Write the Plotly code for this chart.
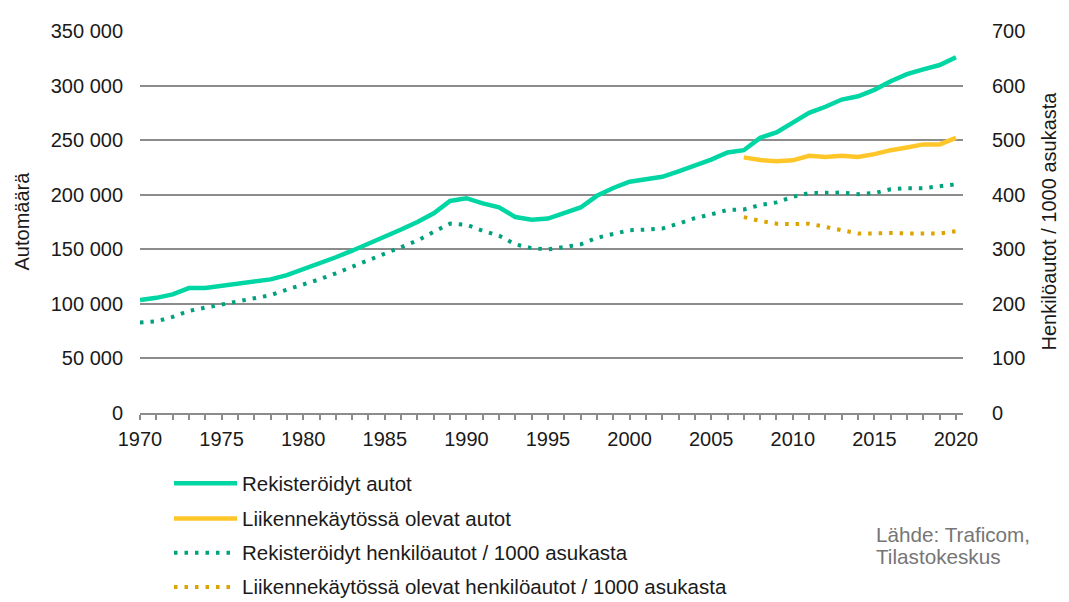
import plotly.graph_objects as go

# ---------------- data ----------------
years = list(range(1970, 2021))
registered_cars = [
    103500, 105500, 108700, 114500, 114500, 116400, 118200, 120300, 122400, 126300,
    131600, 136700, 142700, 148700, 154900, 161500, 168100, 175000, 183000, 194300,
    196800, 192000, 188400, 179500, 177100, 178200, 183400, 188300, 199000, 206200,
    211900, 214300, 216400, 221400, 226800, 232100, 238700, 240800, 252100, 257100,
    266100, 275000, 280600, 287200, 290200, 296100, 303900, 310400, 314900, 318800,
    326000,
]
registered_per_1000 = [
    166, 168, 176, 187, 193, 199, 205, 211, 216, 226,
    235, 245, 256, 268, 280, 292, 305, 316, 332, 347,
    345, 334, 325, 309, 302, 300, 304, 309, 321, 328,
    335, 336, 338, 347, 357, 364, 372, 373, 381, 386,
    396, 403, 404, 404, 401, 403, 410, 412, 412, 415,
    419,
]
traffic_years = list(range(2007, 2021))
traffic_cars = [234200, 231800, 230700, 231500, 235700, 234500, 235700, 234500,
                237200, 240800, 243200, 246100, 246100, 252100]
traffic_per_1000 = [359, 352, 347, 346, 347, 341, 334, 329, 329, 330, 329, 329, 329, 333]

series_names = [
    "Rekisteröidyt autot",
    "Liikennekäytössä olevat autot",
    "Rekisteröidyt henkilöautot / 1000 asukasta",
    "Liikennekäytössä olevat henkilöautot / 1000 asukasta",
]
left_tick_vals = [0, 50000, 100000, 150000, 200000, 250000, 300000, 350000]
left_tick_text = ["0", "50 000", "100 000", "150 000", "200 000", "250 000", "300 000", "350 000"]
right_tick_vals = [0, 100, 200, 300, 400, 500, 600, 700]
x_tick_vals = [1970, 1975, 1980, 1985, 1990, 1995, 2000, 2005, 2010, 2015, 2020]
left_title = "Automäärä"
right_title = "Henkilöautot / 1000 asukasta"
source_lines = ["Lähde: Traficom,", "Tilastokeskus"]

# ---------------- styles ----------------
OFF = 8  # page body margin
W, H = 1069 - OFF, 602 - OFF
ML = 140 - OFF
MT = 22 - OFF
MR = W - (963 - OFF)
MB = H - (413 - OFF)
PW, PH = W - ML - MR, H - MT - MB
FONT = "Liberation Sans, Arial, sans-serif"
TXT = "#1a1a1a"
GREEN = "#00D6A3"
YELLOW = "#FFC629"
GREEN_DOT = "#00A27D"
YELLOW_DOT = "#DBA400"
GRID = "#8C8C8C"
DOT_DASH = "3.5px,7px"

def px_x(p):  # reference page pixel -> paper
    return (p - OFF - ML) / PW

def px_y(p):
    return (H - MB - (p - OFF)) / PH

colors = [GREEN, YELLOW, GREEN_DOT, YELLOW_DOT]
dashes = ["solid", "solid", DOT_DASH, DOT_DASH]
widths = [4.5, 4.5, 4, 4]

fig = go.Figure()
fig.add_trace(go.Scatter(x=years, y=registered_cars, mode="lines", name=series_names[0],
                         line=dict(color=colors[0], width=widths[0]), showlegend=False))
fig.add_trace(go.Scatter(x=traffic_years, y=traffic_cars, mode="lines", name=series_names[1],
                         line=dict(color=colors[1], width=widths[1]), showlegend=False))
fig.add_trace(go.Scatter(x=years, y=registered_per_1000, mode="lines", name=series_names[2],
                         yaxis="y2", line=dict(color=colors[2], width=widths[2], dash=dashes[2]),
                         showlegend=False))
fig.add_trace(go.Scatter(x=traffic_years, y=traffic_per_1000, mode="lines", name=series_names[3],
                         yaxis="y2", line=dict(color=colors[3], width=widths[3], dash=dashes[3]),
                         showlegend=False))

# custom legend (line samples + labels)
shapes = []
annotations = []
leg_y = [485, 521, 556, 591]
for name, c, d, w, ly in zip(series_names, colors, dashes, widths, leg_y):
    shapes.append(dict(type="line", xref="paper", yref="paper",
                       x0=px_x(174), x1=px_x(237), y0=px_y(ly), y1=px_y(ly),
                       line=dict(color=c, width=w, dash=d)))
    annotations.append(dict(text=name, xref="paper", yref="paper", x=px_x(240), y=px_y(ly),
                            xanchor="left", yanchor="middle", showarrow=False,
                            font=dict(family=FONT, size=20.5, color=TXT)))

# axis titles
annotations.append(dict(text=left_title, xref="paper", yref="paper", x=px_x(22), y=px_y(217),
                        textangle=-90, xanchor="center", yanchor="middle", showarrow=False,
                        font=dict(family=FONT, size=20, color=TXT)))
annotations.append(dict(text=right_title, xref="paper", yref="paper", x=px_x(1049), y=px_y(217),
                        textangle=-90, xanchor="center", yanchor="middle", showarrow=False,
                        font=dict(family=FONT, size=20, color=TXT)))
# source
for i, s in enumerate(source_lines):
    annotations.append(dict(text=s, xref="paper", yref="paper", x=px_x(874), y=px_y(537 + 23 * i),
                            xanchor="left", yanchor="middle", showarrow=False,
                            font=dict(family=FONT, size=20.7, color="#767676")))

fig.update_layout(
    width=W, height=H,
    margin=dict(l=ML, r=MR, t=MT, b=MB, pad=0),
    paper_bgcolor="white", plot_bgcolor="white",
    font=dict(family=FONT, size=20, color=TXT),
    shapes=shapes, annotations=annotations,
    xaxis=dict(range=[1970, 2020.43], tickvals=x_tick_vals, ticks="outside", ticklen=5,
               tickcolor=GRID, tickwidth=1.5, showline=True, linecolor=GRID, linewidth=1.5,
               showgrid=False, zeroline=False, ticklabelstandoff=2,
               minor=dict(dtick=1, tick0=1970, ticks="outside", ticklen=5, tickcolor=GRID,
                          tickwidth=1.5, showgrid=False),
               tickfont=dict(family=FONT, size=20, color=TXT)),
    yaxis=dict(range=[0, 350000], tickvals=left_tick_vals, ticktext=left_tick_text,
               showgrid=True, gridcolor=GRID, gridwidth=1.5, zeroline=False, showline=False,
               ticks="", ticklabelstandoff=16,
               tickfont=dict(family=FONT, size=20, color=TXT)),
    yaxis2=dict(range=[0, 700], tickvals=right_tick_vals, overlaying="y", side="right",
                showgrid=False, zeroline=False, showline=False, ticks="", ticklabelstandoff=28,
                tickfont=dict(family=FONT, size=20, color=TXT)),
)

fig.write_html("out.html")
